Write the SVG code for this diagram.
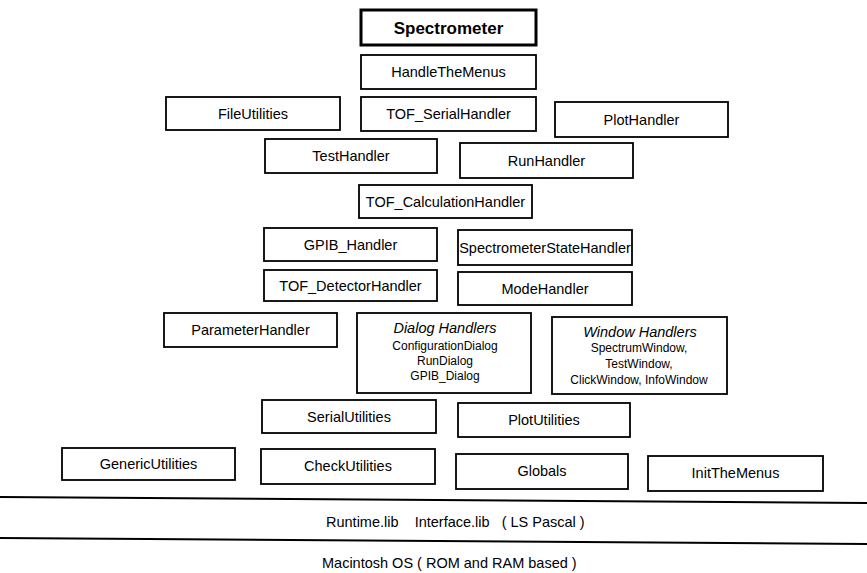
<svg xmlns="http://www.w3.org/2000/svg" width="867" height="573" viewBox="0 0 867 573">
<style>
.box{fill:#fff;stroke:#000;stroke-width:1.8}
text{font-family:"Liberation Sans",Arial,Helvetica,sans-serif;font-size:14.5px;fill:#000;text-anchor:middle}
.b{font-weight:bold;font-size:17px}
.i{font-style:italic}
.s{font-size:12px}
.l{text-anchor:start}
.rule{stroke:#000;stroke-width:2}
</style>
<rect width="867" height="573" fill="#fff"/>
<g id="Spectrometer"><rect class="box" x="361" y="10" width="175" height="35" style="stroke-width:3"/><text class="b" x="448.5" y="34">Spectrometer</text></g>
<g id="HandleTheMenus"><rect class="box" x="361" y="55" width="175" height="34"/><text x="448.5" y="77">HandleTheMenus</text></g>
<g id="FileUtilities"><rect class="box" x="166" y="97" width="174" height="33"/><text x="253" y="119">FileUtilities</text></g>
<g id="TOF_SerialHandler"><rect class="box" x="361" y="97" width="175" height="34"/><text x="448.5" y="119">TOF_SerialHandler</text></g>
<g id="PlotHandler"><rect class="box" x="555" y="102" width="173" height="35"/><text x="641.5" y="124.5">PlotHandler</text></g>
<g id="TestHandler"><rect class="box" x="265" y="139" width="172" height="34"/><text x="351" y="161">TestHandler</text></g>
<g id="RunHandler"><rect class="box" x="460" y="143" width="173" height="35"/><text x="546.5" y="165.5">RunHandler</text></g>
<g id="TOF_CalculationHandler"><rect class="box" x="359" y="185" width="173" height="33"/><text x="445.5" y="206.5">TOF_CalculationHandler</text></g>
<g id="GPIB_Handler"><rect class="box" x="264" y="228" width="173" height="33"/><text x="350.5" y="249.5">GPIB_Handler</text></g>
<g id="SpectrometerStateHandler"><rect class="box" x="458" y="230" width="174" height="35"/><text x="545" y="252.5">SpectrometerStateHandler</text></g>
<g id="TOF_DetectorHandler"><rect class="box" x="264" y="270" width="173" height="31"/><text x="350.5" y="290.5">TOF_DetectorHandler</text></g>
<g id="ModeHandler"><rect class="box" x="458" y="272" width="174" height="33"/><text x="545" y="293.5">ModeHandler</text></g>
<g id="ParameterHandler"><rect class="box" x="164" y="313" width="173" height="34"/><text x="250.5" y="335">ParameterHandler</text></g>
<g id="DialogHandlers"><rect class="box" x="357" y="313" width="174" height="80"/>
<text class="i" x="445" y="333">Dialog Handlers</text>
<text class="s" x="445" y="350">ConfigurationDialog</text>
<text class="s" x="445" y="365">RunDialog</text>
<text class="s" x="445" y="380">GPIB_Dialog</text></g>
<g id="WindowHandlers"><rect class="box" x="552" y="317" width="175" height="77"/>
<text class="i" x="640" y="337">Window Handlers</text>
<text class="s" x="639" y="352">SpectrumWindow,</text>
<text class="s" x="639" y="368">TestWindow,</text>
<text class="s" x="639" y="384">ClickWindow, InfoWindow</text></g>
<g id="SerialUtilities"><rect class="box" x="262" y="400" width="174" height="33"/><text x="349" y="422">SerialUtilities</text></g>
<g id="PlotUtilities"><rect class="box" x="458" y="403" width="172" height="34"/><text x="544" y="425">PlotUtilities</text></g>
<g id="GenericUtilities"><rect class="box" x="62" y="448" width="173" height="32"/><text x="148.5" y="469">GenericUtilities</text></g>
<g id="CheckUtilities"><rect class="box" x="261" y="449" width="174" height="35"/><text x="348" y="471">CheckUtilities</text></g>
<g id="Globals"><rect class="box" x="456" y="454" width="172" height="35"/><text x="542" y="476">Globals</text></g>
<g id="InitTheMenus"><rect class="box" x="648" y="456" width="175" height="35"/><text x="735.5" y="478">InitTheMenus</text></g>
<g id="connectors">
<line class="rule" x1="0" y1="497" x2="867" y2="503"/>
<line class="rule" x1="0" y1="538" x2="867" y2="544"/>
</g>
<text class="l" x="326" y="527" xml:space="preserve">Runtime.lib    Interface.lib   ( LS Pascal )</text>
<text class="l" x="322" y="568">Macintosh OS ( ROM and RAM based )</text>
</svg>
